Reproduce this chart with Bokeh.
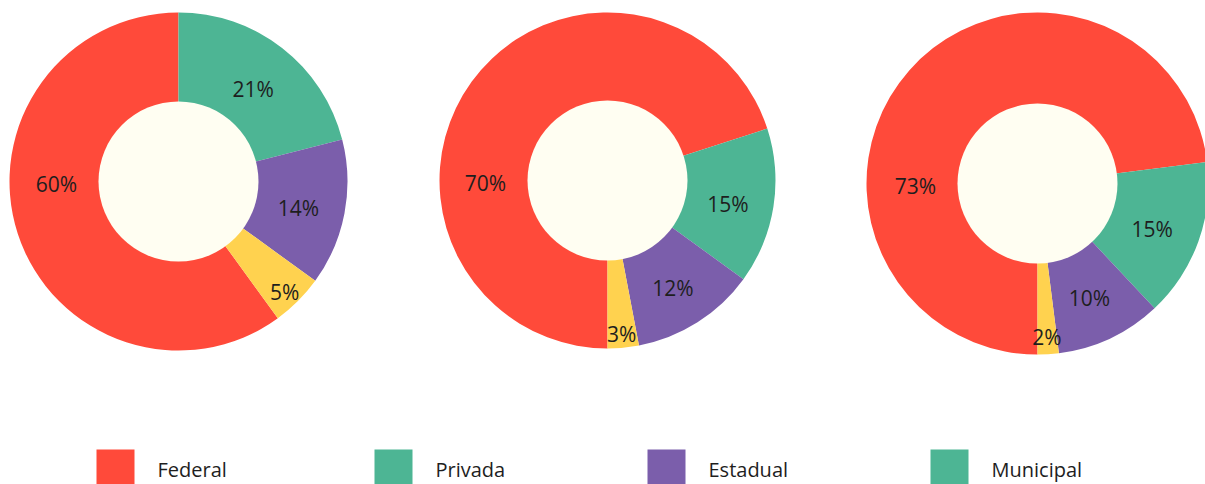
import math
from bokeh.plotting import figure
from bokeh.models import Range1d, ColumnDataSource
from bokeh.core.properties import value
from bokeh.embed import file_html
from bokeh.resources import INLINE

# ---- data ----
categories = ["Federal", "Privada", "Estadual", "Municipal"]
donut1 = [60, 21, 14, 5]
donut2 = [70, 15, 12, 3]
donut3 = [73, 15, 10, 2]
legend_labels = ["Federal", "Privada", "Estadual", "Municipal"]

# ---- style / layout ----
slice_colors = {"Federal": "#FF4A3A", "Privada": "#4DB594", "Estadual": "#7B5EAB", "Municipal": "#FFD24F"}
legend_colors = ["#FF4A3A", "#4DB594", "#7B5EAB", "#4DB594"]
hole_color = "#FFFEF2"
text_color = "#1E1E1E"
FONT = "Open Sans"

W, H = 1205, 484
centers = [(178, 181), (607, 180), (1037, 183)]
outer_r = [169, 168, 171]
inner_r = 80
fed_start = [144, 180, 180]  # clockwise-from-top angle where Federal slice starts
draw_order = ["Privada", "Estadual", "Municipal"]

p = figure(width=W, height=H, output_backend="svg", toolbar_location=None,
           x_range=Range1d(0, W), y_range=Range1d(0, H), min_border=0)
p.axis.visible = False
p.grid.visible = False
p.outline_line_color = None
p.background_fill_color = "white"
p.border_fill_color = "white"


def Y(ypx):
    return H - ypx


for di, vals in enumerate([donut1, donut2, donut3]):
    cx, cy = centers[di]
    R = outer_r[di]
    d = dict(zip(categories, vals))
    theta = fed_start[di]
    seq = ["Federal"] + draw_order
    xs, ys, starts, ends, cols = [], [], [], [], []
    lx, ly, lt = [], [], []
    for c in seq:
        span = d[c] * 3.6
        t1, t2 = theta, theta + span
        starts.append(math.radians(90 - t2))
        ends.append(math.radians(90 - t1))
        cols.append(slice_colors[c])
        xs.append(cx)
        ys.append(Y(cy))
        if span > 180:
            lab_t = 270
            dy = -2
        else:
            lab_t = (t1 + t2) / 2
            dy = -4
        lr = 150 if d[c] <= 5 else 122
        lx.append(cx + lr * math.sin(math.radians(lab_t)))
        ly.append(Y(cy) + lr * math.cos(math.radians(lab_t)) + dy)
        lt.append(f"{d[c]}%")
        theta = t2
    src = ColumnDataSource(dict(x=xs, y=ys, s=starts, e=ends, c=cols))
    p.annular_wedge(x="x", y="y", inner_radius=inner_r - 1, outer_radius=R,
                    start_angle="s", end_angle="e", fill_color="c", line_color=None, source=src)
    p.circle(x=[cx], y=[Y(cy)], radius=inner_r, fill_color=hole_color, line_color=None)
    p.text(x=lx, y=ly, text=lt, text_align="center", text_baseline="middle",
           text_font=value(FONT), text_font_size="21px", text_color=text_color)

# ---- legend ----
leg_x = [96, 374, 647, 930]
for i, lab in enumerate(legend_labels):
    p.rect(x=[leg_x[i] + 19], y=[Y(468)], width=38, height=38,
           fill_color=legend_colors[i], line_color=None)
    p.text(x=[leg_x[i] + 61], y=[Y(469)], text=[lab], text_align="left", text_baseline="middle",
           text_font=value(FONT), text_font_size="20px", text_color=text_color)

open("out.html", "w").write(file_html(p, INLINE))
